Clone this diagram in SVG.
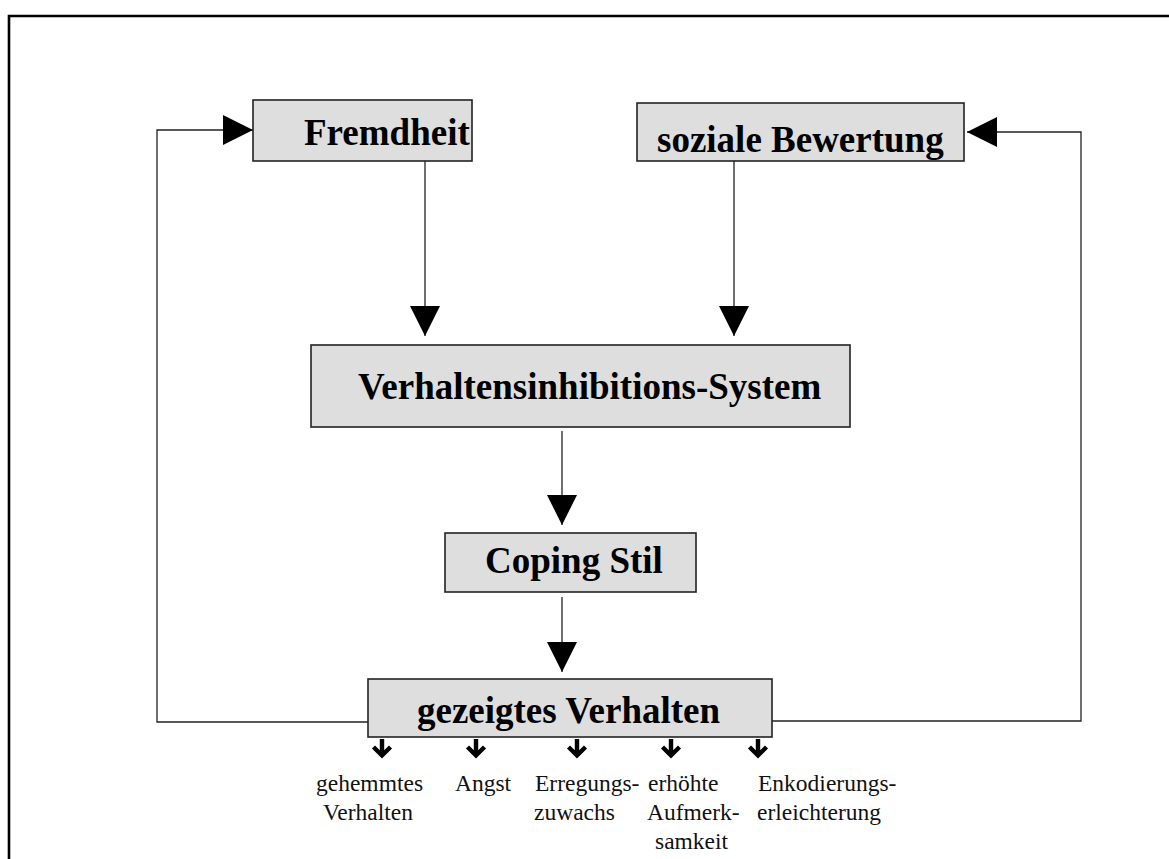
<svg xmlns="http://www.w3.org/2000/svg" width="1169" height="859" viewBox="0 0 1169 859">
  <style>
    .frame { fill: none; stroke: #000; stroke-width: 2.6; }
    .box { fill: #dedede; stroke: #222; stroke-width: 1.6; }
    .title { font-family: "Liberation Serif", "Times New Roman", serif; font-weight: bold; font-size: 37px; fill: #000; }
    .label { font-family: "Liberation Serif", "Times New Roman", serif; font-size: 23.5px; fill: #111; }
    .conn { fill: none; stroke: #222; stroke-width: 1.3; }
    .tick { fill: none; stroke: #000; stroke-width: 4.4; stroke-linejoin: miter; stroke-linecap: butt; }
  </style>
  <defs>
    <marker id="head" markerUnits="userSpaceOnUse" markerWidth="30" markerHeight="30" refX="30" refY="15" orient="auto">
      <path d="M0,0 L30,15 L0,30 z" fill="#000"/>
    </marker>
    <path id="tickArrow" class="tick" d="M0,739 V755 M-8.5,747 L0,755.5 L8.5,747"/>
  </defs>

  <rect width="1169" height="859" fill="#fff"/>

  <!-- page frame: top and left edges only -->
  <path class="frame" d="M9,859 V16 H1169"/>

  <!-- connectors -->
  <g id="connectors">
    <path class="conn" d="M425,161 V336" marker-end="url(#head)"/>
    <path class="conn" d="M734,161 V336" marker-end="url(#head)"/>
    <path class="conn" d="M562,431 V525" marker-end="url(#head)"/>
    <path class="conn" d="M562,597 V672" marker-end="url(#head)"/>
    <path class="conn" d="M368,722 H157 V130 H253" marker-end="url(#head)"/>
    <path class="conn" d="M772,721 H1081 V132 H967" marker-end="url(#head)"/>
    <!-- output arrows under "gezeigtes Verhalten" -->
    <use href="#tickArrow" x="382"/>
    <use href="#tickArrow" x="476"/>
    <use href="#tickArrow" x="577"/>
    <use href="#tickArrow" x="671"/>
    <use href="#tickArrow" x="758"/>
  </g>

  <g id="fremdheit">
    <rect class="box" x="253" y="100" width="219" height="61"/>
    <text class="title" x="304" y="145">Fremdheit</text>
  </g>

  <g id="soziale-bewertung">
    <rect class="box" x="637" y="103" width="327" height="58"/>
    <text class="title" x="657" y="152">soziale Bewertung</text>
  </g>

  <g id="verhaltensinhibitions-system">
    <rect class="box" x="311" y="345" width="539" height="82"/>
    <text class="title" x="358" y="399">Verhaltensinhibitions-System</text>
  </g>

  <g id="coping-stil">
    <rect class="box" x="445" y="533" width="251" height="59"/>
    <text class="title" x="485" y="573">Coping Stil</text>
  </g>

  <g id="gezeigtes-verhalten">
    <rect class="box" x="368" y="679" width="404" height="58"/>
    <text class="title" x="417" y="723">gezeigtes Verhalten</text>
  </g>

  <g id="outcomes">
    <text class="label" x="316" y="791">gehemmtes</text>
    <text class="label" x="323" y="820">Verhalten</text>
    <text class="label" x="455" y="791">Angst</text>
    <text class="label" x="535" y="791">Erregungs-</text>
    <text class="label" x="534" y="820">zuwachs</text>
    <text class="label" x="648" y="791">erhöhte</text>
    <text class="label" x="647" y="820">Aufmerk-</text>
    <text class="label" x="655" y="849">samkeit</text>
    <text class="label" x="758" y="791">Enkodierungs-</text>
    <text class="label" x="757" y="820">erleichterung</text>
  </g>
</svg>
